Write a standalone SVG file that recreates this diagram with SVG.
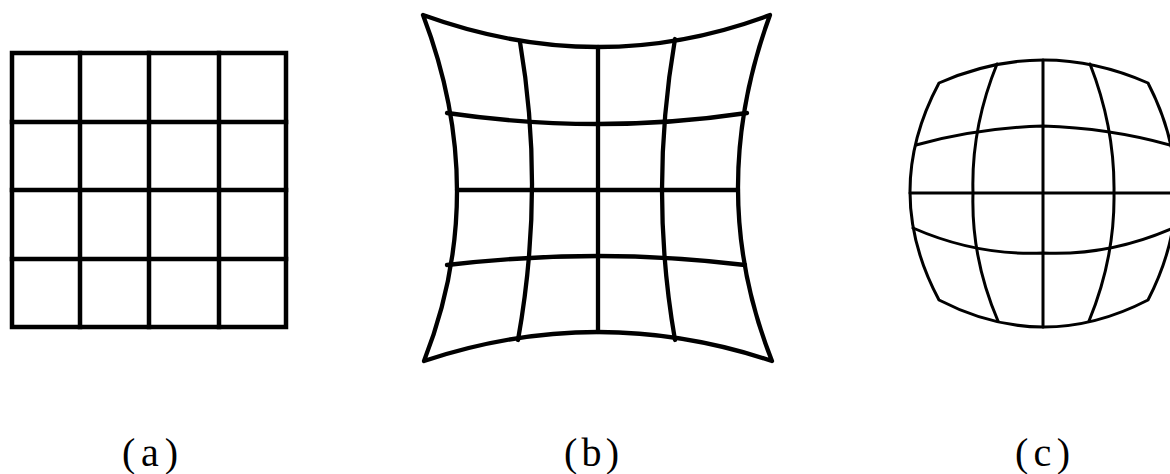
<svg xmlns="http://www.w3.org/2000/svg" width="1170" height="474" viewBox="0 0 1170 474">
<style>
.g{fill:none;stroke:#000;stroke-linecap:round;stroke-linejoin:round}
.a{stroke-width:4.5;stroke-linecap:square;stroke-linejoin:miter}
.b{stroke-width:4.3}
.c{stroke-width:3}
.lbl{font-family:"Liberation Serif","Times New Roman",serif;font-size:40px;fill:#000}
</style>
<rect width="1170" height="474" fill="#fff"/>
<g id="grid-a" class="g a">
<rect x="12" y="53" width="274" height="274"/>
<path d="M80,53V327M149,53V327M219,53V327M12,122H286M12,190H286M12,259H286"/>
</g>
<g id="grid-b" class="g b">
<path d="M423,15 Q599.5,79 770,15 Q705,192 772,361 Q598,303 424,361 Q490.5,192 423,15 Z"/>
<path d="M447,113 Q599,135 747,113"/>
<path d="M457,190 H738"/>
<path d="M447,265 Q600,247 745,265"/>
<path d="M520,42 Q545,189 518,340"/>
<path d="M598,47 V332"/>
<path d="M675,39 Q649,190.5 675,340"/>
</g>
<g id="grid-c" class="g c">
<path d="M939,83 Q1043.5,37 1148,83 Q1204,191.5 1148,300 Q1043.5,354 939,300 Q881,191.5 939,83 Z"/>
<path d="M916,145 Q977,128 1043,126 Q1109,128 1170,145"/>
<path d="M910,193 H1176"/>
<path d="M913,228 Q977,256 1043,253 Q1109,256 1173,228"/>
<path d="M997,64 Q971,128 973,193 Q971,258 998,321"/>
<path d="M1043,60 V327"/>
<path d="M1090,64 Q1115,128 1114,193 Q1115,258 1089,321"/>
</g>
<g id="labels">
<text id="label-a" class="lbl" x="122" y="466" textLength="56" lengthAdjust="spacing">(a)</text>
<text id="label-b" class="lbl" x="564" y="466" textLength="55" lengthAdjust="spacing">(b)</text>
<text id="label-c" class="lbl" x="1015" y="466" textLength="55" lengthAdjust="spacing">(c)</text>
</g>
</svg>
